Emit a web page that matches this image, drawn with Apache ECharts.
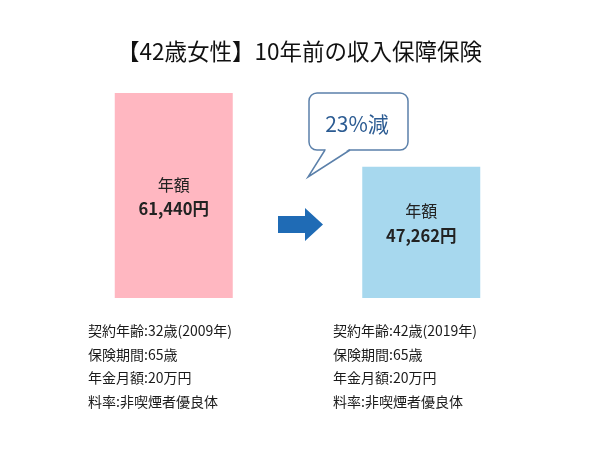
<!DOCTYPE html>
<html><head><meta charset="utf-8">
<script src="https://cdn.jsdelivr.net/npm/echarts@6/dist/echarts.min.js"></script>
<style>html,body{margin:0;padding:0;background:#fff}#c{width:600px;height:450px}</style>
</head><body><div id="c"></div>
<script>
const title = '【42歳女性】10年前の収入保障保険';
const categories = ['2009年', '2019年'];
const values = [61440, 47262];
const valueLabels = ['61,440円', '47,262円'];
const changeText = '23%減';
const infoLeft = ['契約年齢:32歳(2009年)', '保険期間:65歳', '年金月額:20万円', '料率:非喫煙者優良体'];
const infoRight = ['契約年齢:42歳(2019年)', '保険期間:65歳', '年金月額:20万円', '料率:非喫煙者優良体'];

const colors = ['#ffb7c1', '#a7d8ee'];
const labelOffsets = [[0, 1], [0, -9]];
const font = '"Noto Sans CJK JP", sans-serif';

const chart = echarts.init(document.getElementById('c'));
const data = values.map((v, i) => ({
  value: v,
  itemStyle: { color: colors[i] },
  label: { offset: labelOffsets[i] }
}));
const infoGraphics = [];
[[infoLeft, 88], [infoRight, 333]].forEach(([lines, x]) => {
  lines.forEach((t, i) => {
    infoGraphics.push({
      type: 'text', left: x, top: 324 + i * 23.5,
      style: { text: t, fill: '#1a1a1a', font: '14px ' + font }
    });
  });
});

chart.setOption({
  animation: false,
  title: {
    text: title, left: 112, top: 35,
    textStyle: { fontFamily: font, fontSize: 22.5, fontWeight: 'normal', color: '#111' }
  },
  grid: { left: 50, right: 55, top: 93, bottom: 152 },
  xAxis: { type: 'category', data: categories, show: false },
  yAxis: { type: 'value', min: 22000, max: 61440, show: false },
  series: [{
    type: 'bar', barWidth: 118, data: data,
    label: {
      show: true, position: 'inside',
      formatter: p => '{a|年額}\n{b|' + valueLabels[p.dataIndex] + '}',
      rich: {
        a: { fontFamily: font, fontSize: 16, color: '#222', lineHeight: 24 },
        b: { fontFamily: font, fontSize: 16.5, fontWeight: 'bold', color: '#222', lineHeight: 24 }
      }
    }
  }],
  graphic: [
    {
      type: 'polygon',
      shape: { points: [[278, 216], [305, 216], [305, 208], [323, 224.5], [305, 241], [305, 233], [278, 233]] },
      style: { fill: '#1f6bb5' }
    },
    {
      type: 'rect', z: 10,
      shape: { x: 309, y: 93, width: 99, height: 57, r: 8 },
      style: { fill: '#fff', stroke: '#5b80aa', lineWidth: 1.5 }
    },
    {
      type: 'polygon', z: 11,
      shape: { points: [[326, 149], [349, 149], [308, 177]] },
      style: { fill: '#fff' }
    },
    {
      type: 'polyline', z: 12,
      shape: { points: [[325, 150], [308, 177], [350, 150]] },
      style: { fill: null, stroke: '#5b80aa', lineWidth: 1.5 }
    },
    {
      type: 'text', x: 357, y: 124, z: 13,
      style: { text: changeText, fill: '#2b5b92', font: '21px ' + font, align: 'center', verticalAlign: 'middle' }
    },
    ...infoGraphics
  ]
});
</script></body></html>
